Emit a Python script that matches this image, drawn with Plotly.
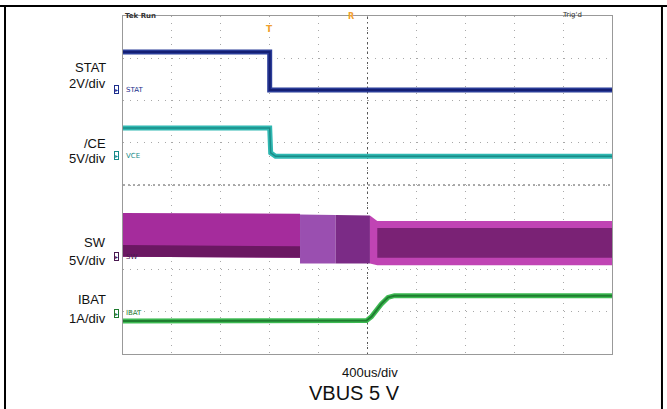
import plotly.graph_objects as go

# ---- data (divisions: x 0..10, y -4..4) ----
t_stat = [0, 3.0, 3.0, 10]
v_stat = [3.15, 3.15, 2.25, 2.25]

t_ce = [0, 3.0, 3.02, 3.12, 10]
v_ce = [1.35, 1.35, 0.76, 0.68, 0.68]

t_ibat = [0, 4.98, 5.08, 5.28, 5.42, 5.55, 10]
v_ibat = [-3.22, -3.21, -3.12, -2.82, -2.66, -2.62, -2.62]

# SW envelope polygons
sw_left_x = [0, 3.62, 3.62, 0]
sw_left_y = [-0.66, -0.68, -1.72, -1.70]
sw_leftdark_x = [0, 3.62, 3.62, 0]
sw_leftdark_y = [-1.42, -1.45, -1.72, -1.70]
sw_mid1_x = [3.62, 4.35, 4.35, 3.62]
sw_mid1_y = [-0.70, -0.71, -1.86, -1.86]
sw_mid2_x = [4.35, 5.05, 5.05, 4.35]
sw_mid2_y = [-0.71, -0.72, -1.86, -1.86]
sw_right_x = [5.05, 5.2, 10, 10, 5.2, 5.05]
sw_right_y = [-0.72, -0.85, -0.85, -1.90, -1.90, -1.86]
sw_inner_x = [5.2, 10, 10, 5.2]
sw_inner_y = [-1.02, -1.02, -1.72, -1.72]

left_labels = [("STAT", 2.79), ("2V/div", 2.41), ("/CE", 0.99), ("5V/div", 0.62),
               ("SW", -1.37), ("5V/div", -1.78), ("IBAT", -2.72), ("1A/div", -3.15)]
channel_labels = ["STAT", "VCE", "SW", "IBAT"]
channel_levels = [2.25, 0.69, -1.70, -3.03]
channel_colors = ["#1c2d8c", "#168a88", "#4a1a50", "#1d7a2e"]

def XP(xd):
    return xd / 10.0

def YP(yd):
    return (yd + 4) / 8.0

fig = go.Figure()

def poly(xs, ys, color):
    fig.add_trace(go.Scatter(x=xs, y=ys, fill="toself", fillcolor=color, mode="none",
                             hoverinfo="skip", showlegend=False))

poly(sw_left_x, sw_left_y, "#a52c9c")
poly(sw_leftdark_x, sw_leftdark_y, "#6b1862")
poly(sw_mid1_x, sw_mid1_y, "#9a4fb0")
poly(sw_mid2_x, sw_mid2_y, "#7b2b86")
poly(sw_right_x, sw_right_y, "#c044b4")
poly(sw_inner_x, sw_inner_y, "#7a2275")

def trace(xs, ys, outer, inner, w, wi):
    fig.add_trace(go.Scatter(x=xs, y=ys, mode="lines", line=dict(color=outer, width=w),
                             hoverinfo="skip", showlegend=False))
    fig.add_trace(go.Scatter(x=xs, y=ys, mode="lines", line=dict(color=inner, width=wi),
                             hoverinfo="skip", showlegend=False))

trace(t_stat, v_stat, "#2a3c98", "#141f74", 5, 2)
trace(t_ce, v_ce, "#30b8b2", "#1a8c88", 5, 1.5)
trace(t_ibat, v_ibat, "#3dba52", "#1f7d30", 5, 2)

ann = []
for txt, yv in left_labels:
    ann.append(dict(x=XP(-0.31), y=YP(yv), xref="paper", yref="paper", text=txt, showarrow=False,
                    xanchor="right", yanchor="middle",
                    font=dict(family="Liberation Sans, Arial", size=13, color="#111")))

for txt, yv, c in zip(channel_labels, channel_levels, channel_colors):
    ann.append(dict(x=XP(-0.13), y=YP(yv), xref="paper", yref="paper", text="▸", showarrow=False,
                    xanchor="center", yanchor="middle", bordercolor=c, borderwidth=1, borderpad=0,
                    font=dict(family="DejaVu Sans", size=6, color=c)))
    ann.append(dict(x=XP(0.03), y=YP(yv), xref="paper", yref="paper", text=txt, showarrow=False,
                    xanchor="left", yanchor="middle",
                    font=dict(family="DejaVu Sans", size=7, color=c)))

ann += [
    dict(x=XP(0.0), y=YP(4.0), xref="paper", yref="paper", text="<b>Tek Run</b>", showarrow=False,
         xanchor="left", yanchor="middle", font=dict(family="DejaVu Sans", size=7, color="#333")),
    dict(x=XP(8.94), y=YP(4.03), xref="paper", yref="paper", text="Trig'd", showarrow=False,
         xanchor="left", yanchor="middle", font=dict(family="DejaVu Sans", size=7, color="#333")),
    dict(x=XP(3.0), y=YP(3.7), xref="paper", yref="paper", text="<b>T</b>", showarrow=False,
         xanchor="center", yanchor="middle", font=dict(family="DejaVu Sans", size=9, color="#f0a030")),
    dict(x=XP(4.66), y=YP(3.98), xref="paper", yref="paper", text="<b>R</b>", showarrow=False,
         xanchor="center", yanchor="middle", font=dict(family="DejaVu Sans", size=8, color="#f0a030")),
    dict(x=XP(5.05), y=YP(-4.43), xref="paper", yref="paper", text="400us/div", showarrow=False,
         xanchor="center", yanchor="middle", font=dict(family="Liberation Sans, Arial", size=13, color="#111")),
    dict(x=XP(4.74), y=YP(-4.93), xref="paper", yref="paper", text="VBUS 5 V", showarrow=False,
         xanchor="center", yanchor="middle", font=dict(family="Liberation Sans, Arial", size=20, color="#111")),
]

shapes = [
    dict(type="line", xref="x", yref="y", x0=3.56, x1=7.30, y0=4.03, y1=4.03,
         line=dict(color="#f0b8a8", width=1)),
    dict(type="line", xref="x", yref="y", x0=0, x1=10, y0=0, y1=0,
         line=dict(color="#555", width=1, dash="2px,3px"), layer="below"),
    dict(type="line", xref="x", yref="y", x0=5, x1=5, y0=-4, y1=4,
         line=dict(color="#555", width=1, dash="2px,3px"), layer="below"),
    # outer frame
    dict(type="line", xref="paper", yref="paper", x0=-0.2515, x1=1.113, y0=1.0296, y1=1.0296,
         line=dict(color="#000", width=2)),
    dict(type="line", xref="paper", yref="paper", x0=-0.2413, x1=-0.2413, y0=1.0296, y1=-0.17,
         line=dict(color="#000", width=2)),
    dict(type="line", xref="paper", yref="paper", x0=1.1022, x1=1.1022, y0=1.0296, y1=-0.17,
         line=dict(color="#000", width=2)),
]

fig.update_layout(
    width=667, height=409,
    margin=dict(l=123, r=55, t=16, b=55),
    paper_bgcolor="white", plot_bgcolor="white",
    annotations=ann, shapes=shapes,
    showlegend=False,
)
fig.update_xaxes(range=[0, 10], dtick=1, showgrid=True, gridcolor="#a8a8a8", griddash="1px,6px",
                 gridwidth=1, showticklabels=False, zeroline=False, showline=True, mirror=True,
                 linecolor="#999", linewidth=1, ticks="", fixedrange=True)
fig.update_yaxes(range=[-4, 4], dtick=1, showgrid=True, gridcolor="#a8a8a8", griddash="1px,6px",
                 gridwidth=1, showticklabels=False, zeroline=False, showline=True, mirror=True,
                 linecolor="#999", linewidth=1, ticks="", fixedrange=True)

fig.write_html("out.html", config={"displayModeBar": False},
               post_script="document.body.style.margin='0';")
